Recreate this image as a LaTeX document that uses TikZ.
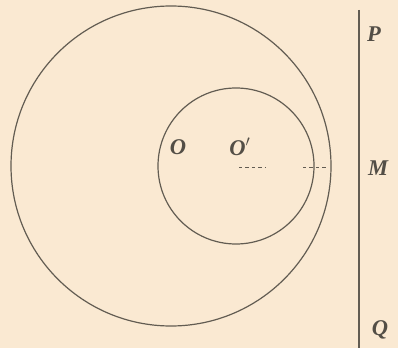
\documentclass[tikz,border=0pt]{standalone}
\usepackage{fontspec}
\setmainfont{Liberation Serif}
\usepackage{xcolor}
\usepackage{tikz}
\usetikzlibrary{positioning,calc}

\definecolor{paper}{RGB}{250,233,210}
\definecolor{ink}{RGB}{98,92,82}

\begin{document}
\begin{tikzpicture}[
    x=0.025cm,y=0.025cm,
    ring/.style={draw=ink, line width=0.85pt},
    wall/.style={draw=ink, line width=1pt},
    guide/.style={draw=ink, line width=0.7pt, dash pattern=on 2.4pt off 2.2pt},
    lab/.style={font=\fontsize{16}{18}\selectfont\bfseries\itshape, text=ink!85!black, inner sep=1pt}
  ]
    \fill[paper] (0,0) rectangle (398,348);
    \useasboundingbox (0,0) rectangle (398,348);

    \coordinate (o) at (171,182);
    \coordinate (o2) at (236,182);
    \draw[ring] (o) circle (160);
    \draw[ring] (o2) circle (78);

    \coordinate (p) at (359,338);
    \coordinate (q) at (359,0);
    \draw[wall] (p) -- (q);

    \coordinate (g1) at (239,181);
    \coordinate (g2) at (266,181);
    \coordinate (g3) at (303,181);
    \coordinate (g4) at (328,181);
    \draw[guide] (g1) -- (g2);
    \draw[guide] (g3) -- (g4);

    \node[lab] (lo) at (178,201) {O};
    \node[lab] (lo2) at (240,201) {O$'$};
    \node[lab] (lp) at (374,314) {P};
    \node[lab] (lm) at (378,180) {M};
    \node[lab] (lq) at (380,18) {Q};
  \end{tikzpicture}
\end{document}
